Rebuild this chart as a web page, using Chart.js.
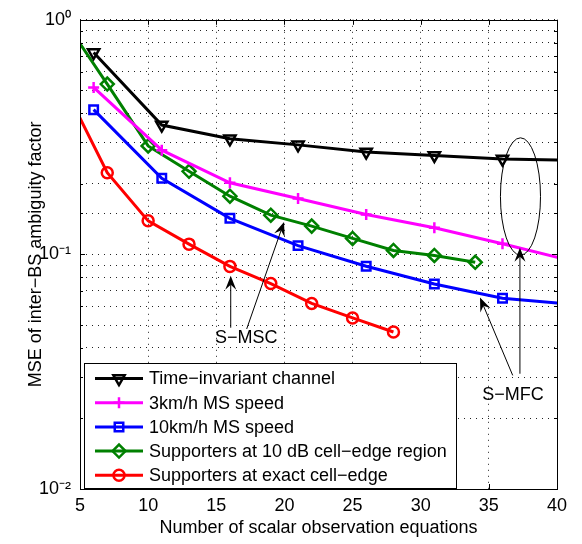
<!DOCTYPE html>
<html><head><meta charset="utf-8">
<script src="https://cdn.jsdelivr.net/npm/chart.js@4"></script>
<style>html,body{margin:0;padding:0;background:#fff}</style>
</head><body>
<canvas id="c" width="582" height="544"></canvas>
<script>
const FONT = '"Liberation Sans", Arial, Helvetica, sans-serif';

// ---- data ----
const xTicks = [5, 10, 15, 20, 25, 30, 35, 40];
const seriesLabels = [
  'Time\u2212invariant channel',
  '3km/h MS speed',
  '10km/h MS speed',
  'Supporters at 10 dB cell\u2212edge region',
  'Supporters at exact cell\u2212edge'
];
const xTimeInv = [6, 11, 16, 21, 26, 31, 36, 41];
const yTimeInv = [0.725, 0.356, 0.311, 0.293, 0.273, 0.264, 0.255, 0.252];
const x3kmh = [6, 11, 16, 21, 26, 31, 36, 41];
const y3kmh = [0.515, 0.278, 0.202, 0.173, 0.148, 0.130, 0.111, 0.094];
const x10kmh = [6, 11, 16, 21, 26, 31, 36, 41];
const y10kmh = [0.414, 0.211, 0.1425, 0.109, 0.089, 0.0748, 0.065, 0.0613];
const x10dB = [4, 7, 10, 13, 16, 19, 22, 25, 28, 31, 34];
const y10dB = [0.965, 0.532, 0.290, 0.226, 0.177, 0.147, 0.132, 0.117, 0.104, 0.099, 0.0925];
const xEdge = [4, 7, 10, 13, 16, 19, 22, 25, 28];
const yEdge = [0.498, 0.223, 0.139, 0.1106, 0.0889, 0.0751, 0.0618, 0.0536, 0.0467];

// annotation anchors in data coordinates
const annoTexts = [
  { text: 'S\u2212MSC', x: 17.2, y: 0.0438 },
  { text: 'S\u2212MFC', x: 36.77, y: 0.0251 }
];
const annoArrows = [
  { from: [16.06, 0.0487], to: [16.06, 0.081] },
  { from: [17.23, 0.0481], to: [19.97, 0.1375] },
  { from: [36.75, 0.0305], to: [34.35, 0.0655] },
  { from: [37.28, 0.031], to: [37.28, 0.1067] }
];
const annoEllipse = { x1: 35.85, x2: 38.79, y1: 0.0993, y2: 0.314 };

function pts(xs, ys) { return xs.map((x, i) => ({ x: x, y: ys[i] })); }

const styles = [
  { color: '#000000', pointStyle: 'triangle', rotation: 180, radius: 6.5 },
  { color: '#ff00ff', pointStyle: 'cross', rotation: 0, radius: 5.5 },
  { color: '#0000ff', pointStyle: 'rect', rotation: 0, radius: 6 },
  { color: '#008000', pointStyle: 'rectRot', rotation: 0, radius: 6.5 },
  { color: '#ff0000', pointStyle: 'circle', rotation: 0, radius: 5.5 }
];
const seriesData = [
  pts(xTimeInv, yTimeInv), pts(x3kmh, y3kmh), pts(x10kmh, y10kmh),
  pts(x10dB, y10dB), pts(xEdge, yEdge)
];

const datasets = seriesData.map((d, i) => ({
  label: seriesLabels[i],
  data: d,
  borderColor: styles[i].color,
  backgroundColor: styles[i].color,
  borderWidth: 3,
  pointStyle: styles[i].pointStyle,
  pointRotation: styles[i].rotation,
  pointRadius: styles[i].radius,
  pointBorderWidth: 2.5,
  pointBorderColor: styles[i].color,
  pointBackgroundColor: 'rgba(255,255,255,0)',
  tension: 0,
  fill: false
}));

function supNum(n) {
  const m = { '-': '\u207B', '0': '\u2070', '1': '\u00B9', '2': '\u00B2' };
  return String(n).split('').map(c => m[c] || c).join('');
}

const overlay = {
  id: 'overlay',
  afterDraw(chart) {
    const ctx = chart.ctx;
    const a = chart.chartArea;
    const xs = chart.scales.x, ys = chart.scales.y;
    ctx.save();
    // frame
    ctx.strokeStyle = '#000';
    ctx.lineWidth = 1;
    ctx.strokeRect(Math.round(a.left) + 0.5, Math.round(a.top) + 0.5,
      Math.round(a.right - a.left), Math.round(a.bottom - a.top));
    // inward ticks
    ctx.beginPath();
    xs.ticks.forEach(t => {
      const px = Math.round(xs.getPixelForValue(t.value)) + 0.5;
      ctx.moveTo(px, a.bottom); ctx.lineTo(px, a.bottom - 5);
      ctx.moveTo(px, a.top); ctx.lineTo(px, a.top + 5);
    });
    ys.ticks.forEach(t => {
      const e = Math.log10(t.value);
      const major = Math.abs(e - Math.round(e)) < 1e-9;
      const len = major ? 5 : 3;
      const py = Math.round(ys.getPixelForValue(t.value)) + 0.5;
      ctx.moveTo(a.left, py); ctx.lineTo(a.left + len, py);
      ctx.moveTo(a.right, py); ctx.lineTo(a.right - len, py);
    });
    ctx.stroke();

    // annotations
    ctx.fillStyle = '#000';
    ctx.strokeStyle = '#000';
    ctx.lineWidth = 1;
    annoArrows.forEach(ar => {
      const x1 = xs.getPixelForValue(ar.from[0]), y1 = ys.getPixelForValue(ar.from[1]);
      const x2 = xs.getPixelForValue(ar.to[0]), y2 = ys.getPixelForValue(ar.to[1]);
      const ang = Math.atan2(y2 - y1, x2 - x1);
      const L = 14, W = 5.5, N = 9;
      const c = Math.cos(ang), s = Math.sin(ang);
      ctx.beginPath();
      ctx.moveTo(x1, y1); ctx.lineTo(x2 - c * N, y2 - s * N); ctx.stroke();
      const bx = x2 - c * L, by = y2 - s * L;
      ctx.beginPath();
      ctx.moveTo(x2, y2);
      ctx.lineTo(bx - s * W, by + c * W);
      ctx.lineTo(x2 - c * N, y2 - s * N);
      ctx.lineTo(bx + s * W, by - c * W);
      ctx.closePath();
      ctx.fill();
    });
    {
      const ex1 = xs.getPixelForValue(annoEllipse.x1), ex2 = xs.getPixelForValue(annoEllipse.x2);
      const ey1 = ys.getPixelForValue(annoEllipse.y1), ey2 = ys.getPixelForValue(annoEllipse.y2);
      ctx.beginPath();
      ctx.ellipse((ex1 + ex2) / 2, (ey1 + ey2) / 2, Math.abs(ex2 - ex1) / 2, Math.abs(ey2 - ey1) / 2, 0, 0, Math.PI * 2);
      ctx.stroke();
    }
    ctx.font = '18px ' + FONT;
    ctx.textAlign = 'center';
    ctx.textBaseline = 'middle';
    annoTexts.forEach(t => {
      ctx.fillText(t.text, xs.getPixelForValue(t.x), ys.getPixelForValue(t.y));
    });

    // legend
    const lg = { x: 84, y: 363, w: 372, h: 125, row0: 378.5, gap: 24.2, l1: 95, l2: 143, tx: 149 };
    ctx.fillStyle = '#fff';
    ctx.fillRect(lg.x, lg.y, lg.w, lg.h);
    ctx.strokeStyle = '#000';
    ctx.lineWidth = 1;
    ctx.strokeRect(lg.x + 0.5, lg.y + 0.5, lg.w, lg.h);
    chart.data.datasets.forEach((ds, i) => {
      const yy = lg.row0 + i * lg.gap;
      ctx.strokeStyle = ds.borderColor;
      ctx.lineWidth = ds.borderWidth;
      ctx.beginPath(); ctx.moveTo(lg.l1, yy); ctx.lineTo(lg.l2, yy); ctx.stroke();
      ctx.lineWidth = ds.pointBorderWidth;
      ctx.fillStyle = 'rgba(255,255,255,0)';
      Chart.helpers.drawPoint(ctx, {
        pointStyle: ds.pointStyle, rotation: ds.pointRotation,
        radius: ds.pointRadius, borderWidth: ds.pointBorderWidth
      }, (lg.l1 + lg.l2) / 2, yy);
      ctx.fillStyle = '#000';
      ctx.textAlign = 'left';
      ctx.textBaseline = 'middle';
      ctx.fillText(ds.label, lg.tx, yy + 1);
    });
    ctx.restore();
  }
};

new Chart(document.getElementById('c'), {
  type: 'line',
  data: { datasets: datasets },
  plugins: [overlay],
  options: {
    responsive: false,
    animation: false,
    devicePixelRatio: 1,
    layout: { padding: { top: 18, right: 25, left: 0, bottom: 0 } },
    plugins: { legend: { display: false }, tooltip: { enabled: false } },
    scales: {
      x: {
        type: 'linear', min: 5, max: 40,
        afterBuildTicks(s) { s.ticks = xTicks.map(v => ({ value: v })); },
        ticks: { color: '#000', font: { family: FONT, size: 18 }, padding: 6, maxRotation: 0, autoSkip: false },
        grid: { color: '#222', lineWidth: 1, drawTicks: false },
        border: { display: false, dash: [1, 5] },
        title: { display: true, text: 'Number of scalar observation equations', color: '#000',
          font: { family: FONT, size: 18 }, padding: { top: 0, bottom: 5 } },
        afterFit(s) { s.height = 55; }
      },
      y: {
        type: 'logarithmic', min: 0.01, max: 1,
        ticks: {
          color: '#000', font: { family: FONT, size: 18 }, padding: 9, autoSkip: false,
          callback(v) {
            const e = Math.log10(v);
            if (Math.abs(e - Math.round(e)) < 1e-9) return '10' + supNum(Math.round(e));
            return '';
          }
        },
        grid: { color: '#222', lineWidth: 1, drawTicks: false },
        border: { display: false, dash: [1, 5] },
        title: { display: true, text: 'MSE of inter\u2212BS ambiguity factor', color: '#000',
          font: { family: FONT, size: 18 }, padding: { top: 25, bottom: 0 } },
        afterFit(s) { s.width = 80; }
      }
    }
  }
});
</script>
</body></html>
